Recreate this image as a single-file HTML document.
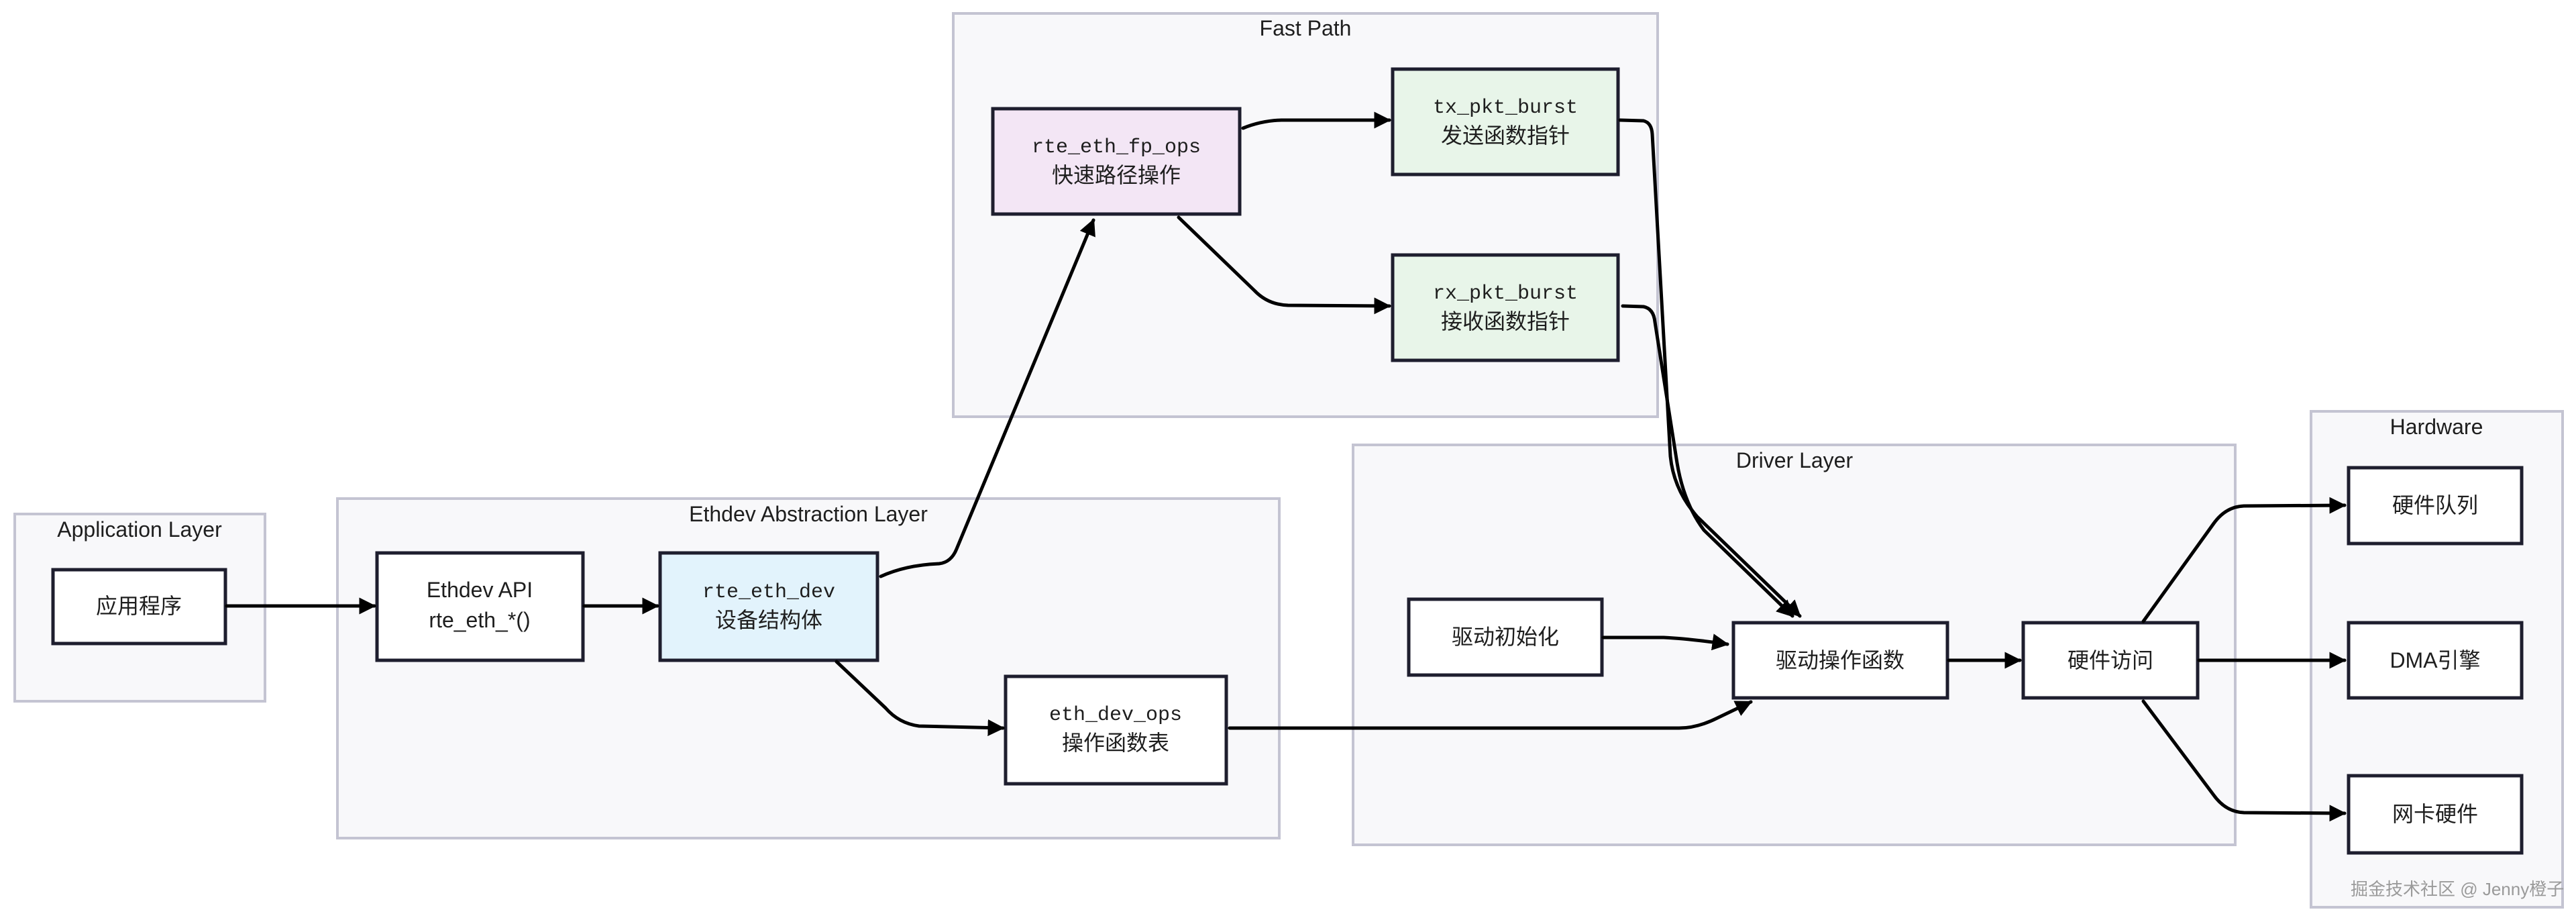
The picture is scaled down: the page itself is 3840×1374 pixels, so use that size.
<!DOCTYPE html>
<html><head><meta charset="utf-8"><style>
html,body{margin:0;padding:0;background:#fff}
svg{display:block}
text{font-family:"Liberation Sans","Noto Sans CJK SC",sans-serif;fill:#1e1e1e}
.grp{fill:#f8f8fa;stroke:#c4c4d2;stroke-width:4}
.box{stroke:#1e1e2e;stroke-width:5}
.ln{fill:none;stroke:#000;stroke-width:5;stroke-linecap:round;stroke-linejoin:round}
.t{font-size:32px;text-anchor:middle}
.g{font-size:32px;text-anchor:middle}
.m{font-family:"Liberation Mono","Noto Sans CJK SC",monospace;font-size:30px;text-anchor:middle}
</style></head><body>
<svg width="3840" height="1374" viewBox="0 0 3840 1374" xmlns="http://www.w3.org/2000/svg">
<defs>
<marker id="a" viewBox="0 0 10 10" refX="9" refY="5" markerWidth="5" markerHeight="5" orient="auto" markerUnits="strokeWidth">
<path d="M0,0 L10,5 L0,10 z" fill="#000"/></marker>
</defs>
<!-- groups -->
<rect class="grp" x="22" y="766" width="373" height="279"/>
<text class="g" x="208" y="800">Application Layer</text>
<rect class="grp" x="503" y="743" width="1404" height="506"/>
<text class="g" x="1205" y="777">Ethdev Abstraction Layer</text>
<rect class="grp" x="1421" y="20" width="1050" height="601"/>
<text class="g" x="1946" y="53">Fast Path</text>
<rect class="grp" x="2017" y="663" width="1315" height="596"/>
<text class="g" x="2675" y="697">Driver Layer</text>
<rect class="grp" x="3445" y="613" width="375" height="739"/>
<text class="g" x="3632" y="647">Hardware</text>
<text x="3504" y="1334" style="font-size:26px;fill:#9a9a9a">掘金技术社区 @ Jenny橙子</text>

<!-- nodes -->
<rect class="box" x="79" y="849" width="257" height="110" fill="#fff"/>
<text class="t" x="207" y="914">应用程序</text>
<rect class="box" x="562" y="824" width="307" height="160" fill="#fff"/>
<text class="t" x="715" y="890">Ethdev API</text>
<text class="t" x="715" y="935">rte_eth_*()</text>
<rect class="box" x="984" y="824" width="324" height="160" fill="#e2f3fc"/>
<text class="m" x="1146" y="890">rte_eth_dev</text>
<text class="t" x="1146" y="935">设备结构体</text>
<rect class="box" x="1499" y="1008" width="329" height="160" fill="#fff"/>
<text class="m" x="1663" y="1073">eth_dev_ops</text>
<text class="t" x="1663" y="1118">操作函数表</text>
<rect class="box" x="1480" y="162" width="368" height="157" fill="#f3e6f5"/>
<text class="m" x="1664" y="227">rte_eth_fp_ops</text>
<text class="t" x="1664" y="272">快速路径操作</text>
<rect class="box" x="2076" y="103" width="336" height="157" fill="#e8f5e9"/>
<text class="m" x="2244" y="168">tx_pkt_burst</text>
<text class="t" x="2244" y="213">发送函数指针</text>
<rect class="box" x="2076" y="380" width="336" height="157" fill="#e8f5e9"/>
<text class="m" x="2244" y="445">rx_pkt_burst</text>
<text class="t" x="2244" y="490">接收函数指针</text>
<rect class="box" x="2100" y="893" width="288" height="113" fill="#fff"/>
<text class="t" x="2244" y="960">驱动初始化</text>
<rect class="box" x="2584" y="928" width="319" height="112" fill="#fff"/>
<text class="t" x="2743" y="995">驱动操作函数</text>
<rect class="box" x="3016" y="928" width="260" height="112" fill="#fff"/>
<text class="t" x="3146" y="995">硬件访问</text>
<rect class="box" x="3501" y="697" width="258" height="113" fill="#fff"/>
<text class="t" x="3630" y="764">硬件队列</text>
<rect class="box" x="3501" y="928" width="258" height="112" fill="#fff"/>
<text class="t" x="3630" y="995">DMA引擎</text>
<rect class="box" x="3501" y="1156" width="258" height="115" fill="#fff"/>
<text class="t" x="3630" y="1224">网卡硬件</text>

<!-- connectors -->
<path class="ln" marker-end="url(#a)" d="M338,903 L558,903"/>
<path class="ln" marker-end="url(#a)" d="M871,903 L980,903"/>
<path class="ln" marker-end="url(#a)" d="M1313,859 Q1350,842 1400,840 Q1418,838 1426,818 L1630,328"/>
<path class="ln" marker-end="url(#a)" d="M1247,986 L1320,1055 Q1340,1078 1370,1082 L1495,1085"/>
<path class="ln" marker-end="url(#a)" d="M1853,191 Q1880,180 1910,179 L2071,179"/>
<path class="ln" marker-end="url(#a)" d="M1757,324 L1870,433 Q1890,454 1920,455 L2071,456"/>
<path class="ln" marker-end="url(#a)" d="M2415,179 L2450,180 Q2462,183 2463,200 L2490,680 Q2495,730 2530,770 L2683,918"/>
<path class="ln" marker-end="url(#a)" d="M2419,456 L2450,457 Q2465,460 2467,480 L2500,690 Q2510,750 2540,790 L2672,918"/>
<path class="ln" marker-end="url(#a)" d="M1833,1085 L2503,1085 Q2530,1085 2560,1070 L2610,1046"/>
<path class="ln" marker-end="url(#a)" d="M2390,950 L2480,950 Q2520,952 2575,960"/>
<path class="ln" marker-end="url(#a)" d="M2905,984 L3011,984"/>
<path class="ln" marker-end="url(#a)" d="M3195,926 L3300,780 Q3318,755 3345,754 L3495,753"/>
<path class="ln" marker-end="url(#a)" d="M3278,984 L3495,984"/>
<path class="ln" marker-end="url(#a)" d="M3195,1045 L3300,1185 Q3318,1210 3345,1211 L3495,1212"/>
</svg>
</body></html>
